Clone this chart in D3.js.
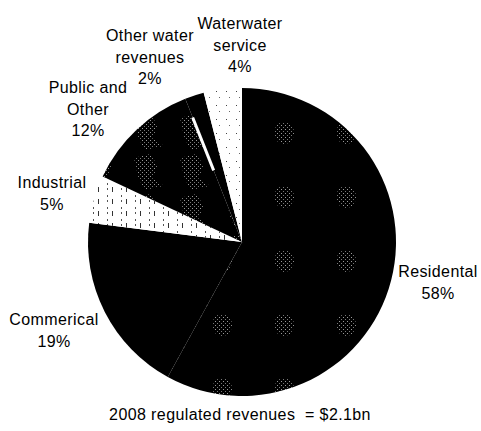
<!DOCTYPE html>
<html><head><meta charset="utf-8">
<script src="https://cdn.jsdelivr.net/npm/d3@7"></script>
<style>
html,body{margin:0;padding:0;background:#fff;}
svg{display:block;}
text{font-family:"Liberation Sans",Arial,sans-serif;fill:#000;letter-spacing:0.4px;}
</style></head>
<body><svg id="c" width="481" height="431"></svg>
<script>
// ---- data ----
const categories = ["Residental","Commerical","Industrial","Public and Other","Other water revenues","Waterwater service"];
const shares = [58, 19, 5, 12, 2, 4];
const labelLines = [["Residental","58%"],["Commerical","19%"],["Industrial","5%"],["Public and","Other","12%"],["Other water","revenues","2%"],["Waterwater","service","4%"]];
const caption = "2008 regulated revenues  = $2.1bn";

// ---- layout ----
const W = 481, H = 431, cx = 242, cy = 242, R = 154;
const labelAnchor = [[438,277],[54,325],[52,188],[88,93],[150,41],[240,29]];
const lineGap = 21.5;
const fills = ["url(#resPat)","#000","url(#indPat)","url(#pubPat)","#000","url(#wwPat)"];

const svg = d3.select("#c");
const defs = svg.append("defs");

// sparse dither dot pattern (gray pixels on black)
const dot = defs.append("pattern").attr("id","dots").attr("patternUnits","userSpaceOnUse").attr("width",4).attr("height",4);
dot.append("rect").attr("width",4).attr("height",4).attr("fill","#000");
dot.append("rect").attr("x",0).attr("y",0).attr("width",1).attr("height",1).attr("fill","#999");
dot.append("rect").attr("x",2).attr("y",2).attr("width",1).attr("height",1).attr("fill","#777");

// residential: black with gray speckled blobs on a grid (pattern space = pie group space)
const res = defs.append("pattern").attr("id","resPat").attr("patternUnits","userSpaceOnUse")
  .attr("width",62).attr("height",64).attr("x",-51).attr("y",-141);
res.append("rect").attr("width",62).attr("height",64).attr("fill","#000");
res.append("ellipse").attr("cx",31).attr("cy",32).attr("rx",10).attr("ry",11).attr("fill","url(#dots)");

// public: black with irregular dithered areas
const pub = defs.append("pattern").attr("id","pubPat").attr("patternUnits","userSpaceOnUse")
  .attr("width",46).attr("height",40).attr("x",-20).attr("y",-10);
pub.append("rect").attr("width",46).attr("height",40).attr("fill","#000");
pub.append("path").attr("d","M4,6 L20,2 L28,14 L22,26 L34,34 L14,38 L8,24 Z").attr("fill","url(#dots)");

// light speckle on white
const lt = defs.append("pattern").attr("id","lightDots").attr("patternUnits","userSpaceOnUse").attr("width",4).attr("height",5);
lt.append("rect").attr("width",4).attr("height",5).attr("fill","#fff");
lt.append("rect").attr("x",1).attr("y",1).attr("width",1).attr("height",2).attr("fill","#555");

const ind = defs.append("pattern").attr("id","indPat").attr("patternUnits","userSpaceOnUse")
  .attr("width",14).attr("height",12);
ind.append("rect").attr("width",14).attr("height",12).attr("fill","#fff");
ind.append("rect").attr("x",2).attr("y",1).attr("width",6).attr("height",8).attr("fill","url(#lightDots)");
ind.append("rect").attr("x",10).attr("y",5).attr("width",1).attr("height",5).attr("fill","#333");

const ww = defs.append("pattern").attr("id","wwPat").attr("patternUnits","userSpaceOnUse")
  .attr("width",10).attr("height",14);
ww.append("rect").attr("width",10).attr("height",14).attr("fill","#fff");
ww.append("rect").attr("x",4).attr("y",3).attr("width",1).attr("height",1).attr("fill","#444");
ww.append("rect").attr("x",7).attr("y",9).attr("width",1).attr("height",1).attr("fill","#666");

// ---- pie ----
const pie = d3.pie().sort(null).value(d => d)(shares);
const arc = d3.arc().innerRadius(0).outerRadius(R);
const g = svg.append("g").attr("transform",`translate(${cx},${cy})`);
g.selectAll("path.slice").data(pie).join("path").attr("class","slice")
  .attr("d",arc).attr("fill",(d,i)=>fills[i]);

// faint dotted boundary between residential and commercial
const a1 = pie[0].endAngle;
g.append("line").attr("x1",0).attr("y1",0)
  .attr("x2",R*Math.sin(a1)).attr("y2",-R*Math.cos(a1))
  .attr("stroke","#555").attr("stroke-width",1).attr("stroke-dasharray","1,11");

// white streak between public and other water
const a4 = pie[3].endAngle;
g.append("line")
  .attr("x1",R*0.5*Math.sin(a4)).attr("y1",-R*0.5*Math.cos(a4))
  .attr("x2",R*0.87*Math.sin(a4)).attr("y2",-R*0.87*Math.cos(a4))
  .attr("stroke","#fff").attr("stroke-width",3);

// ---- labels ----
categories.forEach((c,i)=>{
  const t = svg.append("text").attr("text-anchor","middle").attr("font-size",16);
  labelLines[i].forEach((ln,j)=>{
    t.append("tspan").attr("x",labelAnchor[i][0]).attr("y",labelAnchor[i][1]+j*lineGap).text(ln);
  });
});

svg.append("text").attr("x",240).attr("y",420).attr("text-anchor","middle")
  .attr("font-size",16).attr("xml:space","preserve").style("white-space","pre").text(caption);
</script>
</body></html>
